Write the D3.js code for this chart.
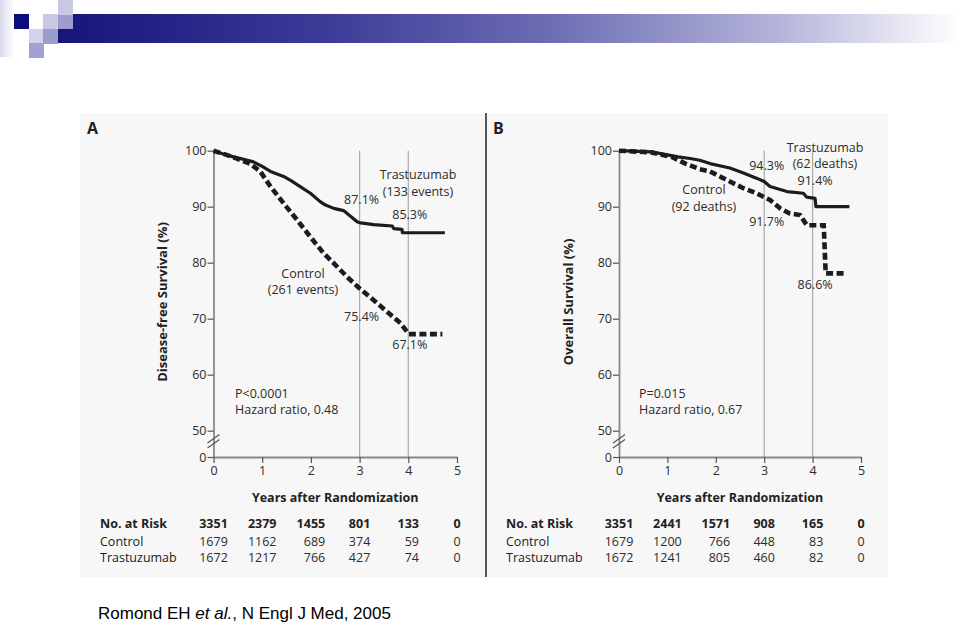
<!DOCTYPE html>
<html><head><meta charset="utf-8">
<script src="https://cdn.jsdelivr.net/npm/d3@7/dist/d3.min.js"></script>
<style>body{margin:0;background:#fff;} svg{display:block;}</style>
</head><body>
<svg id="c" width="960" height="625"></svg>
<script>
// ---------- data ----------
const years = [0, 1, 2, 3, 4, 5];
const yTicks = [0, 50, 60, 70, 80, 90, 100];
const landmarkYears = [3, 4];

const dfsTrastuzumab = [[0,100],[0.2,99.4],[0.41,98.9],[0.6,98.5],[0.82,98.0],[1.0,97.2],[1.17,96.3],[1.44,95.4],[1.6,94.6],[1.78,93.6],[1.99,92.4],[2.19,90.9],[2.3,90.3],[2.47,89.7],[2.67,89.3],[2.8,88.4],[2.95,87.3],[3.02,87.1],[3.29,86.8],[3.67,86.55],[3.70,86.1],[3.87,85.95],[3.88,85.35],[4.75,85.35]];
const dfsControl = [[0,100],[0.25,99.3],[0.48,98.6],[0.75,97.7],[0.96,96.3],[1.17,93.6],[1.44,90.6],[1.72,87.6],[1.99,84.6],[2.26,81.7],[2.47,79.9],[2.74,77.5],[3.0,75.4],[3.29,73.3],[3.57,71.2],[3.84,69.2],[4.01,67.25],[4.70,67.25]];
const osTrastuzumab = [[0,100],[0.67,99.8],[1.22,98.9],[1.47,98.6],[1.67,98.3],[1.88,97.7],[2.29,96.9],[2.57,96.0],[2.84,95.1],[3.0,94.5],[3.12,93.6],[3.47,92.7],[3.81,92.4],[3.88,91.7],[4.05,91.5],[4.07,90.0],[4.76,90.0]];
const osControl = [[0,100],[0.67,99.7],[1.09,98.9],[1.37,97.7],[1.67,96.7],[1.88,96.3],[2.29,94.5],[2.57,93.3],[2.84,92.4],[3.0,91.7],[3.12,91.2],[3.33,89.7],[3.53,88.8],[3.74,88.5],[3.88,86.7],[4.23,86.7],[4.27,78.1],[4.69,78.1]];

const riskLabels = ["No. at Risk", "Control", "Trastuzumab"];
const dfsRiskTotal = [3351, 2379, 1455, 801, 133, 0];
const dfsRiskControl = [1679, 1162, 689, 374, 59, 0];
const dfsRiskTrast = [1672, 1217, 766, 427, 74, 0];
const osRiskTotal = [3351, 2441, 1571, 908, 165, 0];
const osRiskControl = [1679, 1200, 766, 448, 83, 0];
const osRiskTrast = [1672, 1241, 805, 460, 82, 0];

const panelLetters = ["A", "B"];
const yTitles = ["Disease-free Survival (%)", "Overall Survival (%)"];
const xTitle = "Years after Randomization";

// ---------- drawing ----------
const svg = d3.select("#c");
const FONT = "'Open Sans', 'Noto Sans', sans-serif";
const TXT = "#2c2c2c";
const FS = 12.5;

// header decoration
const defs = svg.append("defs");
const grad = defs.append("linearGradient").attr("id", "hdr").attr("x1", "0").attr("x2", "1");
[[0, "#15157c"], [0.3, "#3c3c98"], [0.55, "#6e6eb5"], [0.8, "#b4b4da"], [1, "#ffffff"]]
  .forEach(([o, c]) => grad.append("stop").attr("offset", o).attr("stop-color", c));
const fade = defs.append("linearGradient").attr("id", "fade").attr("x1", "0").attr("x2", "1");
[[0, "#d8d8ec"], [1, "#ffffff"]].forEach(([o, c]) => fade.append("stop").attr("offset", o).attr("stop-color", c));

svg.append("rect").attr("x", 0).attr("y", 0).attr("width", 14).attr("height", 57).attr("fill", "url(#fade)");
svg.append("rect").attr("x", 58).attr("y", 14).attr("width", 902).attr("height", 29).attr("fill", "url(#hdr)");
const squares = [
  [14, 14, "#0c0c80"], [43, 14, "#c9c9e6"], [58, 14, "#9c9ccf"], [58, 0, "#c9c9e5"],
  [29, 29, "#d2d2ea"], [43, 29, "#9c9ccf"], [29, 43, "#a2a2d2"]
];
squares.forEach(([x, y, c]) => svg.append("rect").attr("x", x).attr("y", y).attr("width", 15).attr("height", 15).attr("fill", c));

// figure background
svg.append("rect").attr("x", 80).attr("y", 113).attr("width", 808).attr("height", 464).attr("fill", "#f7f7f7");
svg.append("line").attr("x1", 486).attr("x2", 486).attr("y1", 113).attr("y2", 577)
  .attr("stroke", "#555").attr("stroke-width", 2);

const panels = [
  { left: 80, x0: 213.5, x5: 457, km: [dfsTrastuzumab, dfsControl],
    risk: [dfsRiskTotal, dfsRiskControl, dfsRiskTrast] },
  { left: 486, x0: 619, x5: 861, km: [osTrastuzumab, osControl],
    risk: [osRiskTotal, osRiskControl, osRiskTrast] }
];

panels.forEach((p, i) => {
  const g = svg.append("g");
  const x = d3.scaleLinear().domain([0, 5]).range([p.x0, p.x5]);
  const y = d3.scaleLinear().domain([0, 50, 100]).range([457, 430.7, 150.7]);

  // landmark lines
  g.selectAll(".lm").data(landmarkYears).join("line")
    .attr("x1", d => x(d)).attr("x2", d => x(d))
    .attr("y1", y(100)).attr("y2", y(0))
    .attr("stroke", "#aaa").attr("stroke-width", 1.2);

  // axes
  const ya = g.append("g").attr("transform", `translate(${p.x0},0)`)
    .call(d3.axisLeft(y).tickValues(yTicks).tickFormat(d3.format("d")).tickSize(6).tickSizeOuter(0).tickPadding(1));
  const xa = g.append("g").attr("transform", `translate(0,${y(0)})`)
    .call(d3.axisBottom(x).tickValues(years).tickFormat(d3.format("d")).tickSize(6).tickSizeOuter(0).tickPadding(3));
  [ya, xa].forEach(a => {
    a.select(".domain").attr("stroke", "#888").attr("stroke-width", 1.8);
    a.selectAll(".tick line").attr("stroke", "#555").attr("stroke-width", 1.2);
    a.selectAll(".tick text").attr("fill", TXT).style("font-family", FONT).style("font-size", FS + "px");
  });

  // axis break marks
  [0, 5].forEach(dy => {
    g.append("line").attr("x1", p.x0 - 6).attr("y1", 443 + dy).attr("x2", p.x0 + 6).attr("y2", 434.5 + dy)
      .attr("stroke", "#555").attr("stroke-width", 1.2);
  });

  // curves
  const line = d3.line().x(d => x(d[0])).y(d => y(d[1]));
  g.append("path").datum(p.km[0]).attr("d", line).attr("fill", "none")
    .attr("stroke", "#1c1c1c").attr("stroke-width", 3.2).attr("stroke-linejoin", "round");
  g.append("path").datum(p.km[1]).attr("d", line).attr("fill", "none")
    .attr("stroke", "#1c1c1c").attr("stroke-width", 4.6).attr("stroke-dasharray", "7,3.5");

  const txt = (s, tx, ty, anchor = "middle", opts = {}) =>
    g.append("text").attr("x", tx).attr("y", ty).attr("text-anchor", anchor)
      .attr("fill", opts.fill || TXT).style("font-family", FONT)
      .style("font-size", (opts.size || FS) + "px").style("font-weight", opts.bold ? "bold" : "normal")
      .text(s);
  // two-line label in one text element
  const txt2 = (a, b, tx, ty, dy, anchor = "middle") => {
    const t = g.append("text").attr("text-anchor", anchor).attr("fill", TXT)
      .style("font-family", FONT).style("font-size", FS + "px");
    t.append("tspan").attr("x", tx).attr("y", ty).text(a);
    t.append("tspan").attr("x", tx).attr("dy", dy).text(b);
  };

  // panel letter
  txt(panelLetters[i], p.left + 7, 134, "start", { bold: true, size: 16, fill: "#222" });

  // y title
  g.append("text").attr("transform", `translate(${p.left + 87},302) rotate(-90)`)
    .attr("text-anchor", "middle").attr("fill", "#222").style("font-family", FONT)
    .style("font-size", "13px").style("font-weight", "bold").text(yTitles[i]);

  // x title
  txt(xTitle, (p.x0 + p.x5) / 2, 502, "middle", { bold: true, fill: "#222", size: 12.5 });

  // annotations
  if (i === 0) {
    txt2("Trastuzumab", "(133 events)", 418, 179, 17);
    txt2("Control", "(261 events)", 303, 277.5, 16.5);
    txt("87.1%", x(3) + 2, y(87.1) - 19); txt("85.3%", x(4) + 1.5, y(85.3) - 14);
    txt("75.4%", x(3) + 2, y(75.4) + 32.5); txt("67.1%", x(4) + 1.5, y(67.1) + 14.5);
    txt2("P<0.0001", "Hazard ratio, 0.48", 235, 397.5, 16.8, "start");
  } else {
    txt2("Trastuzumab", "(62 deaths)", 825, 151.5, 16.8);
    txt2("Control", "(92 deaths)", 704, 194, 17);
    txt("94.3%", x(3) + 2.5, y(94.3) - 12.5); txt("91.4%", x(4) + 2.5, y(91.4) - 14);
    txt("91.7%", x(3) + 2.5, y(91.7) + 29); txt("86.6%", x(4) + 2.5, y(86.6) + 63.5);
    txt2("P=0.015", "Hazard ratio, 0.67", 639, 397.5, 16.8, "start");
  }

  // risk table
  const rowY = [527.5, 545.5, 562];
  riskLabels.forEach((lab, r) => txt(lab, p.left + 20, rowY[r], "start", { bold: r === 0, fill: "#222" }));
  years.forEach((t, c) => {
    const head = txt(p.risk[0][c], x(t), rowY[0], "middle", { bold: true, fill: "#222" });
    const w = head.node().getComputedTextLength();
    const right = x(t) + w / 2;
    [1, 2].forEach(r => txt(p.risk[r][c], right, rowY[r], "end"));
  });
});

// caption
const cap = svg.append("text").attr("x", 98).attr("y", 619)
  .style("font-family", "'Liberation Sans', Arial, sans-serif").style("font-size", "17px").attr("fill", "#000");
cap.append("tspan").text("Romond EH ");
cap.append("tspan").style("font-style", "italic").text("et al.");
cap.append("tspan").text(", N Engl J Med, 2005");
</script>
</body></html>
